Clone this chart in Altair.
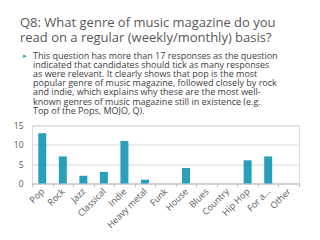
import altair as alt
import pandas as pd

genres = ["Pop", "Rock", "Jazz", "Classical", "Indie", "Heavy metal", "Funk",
          "House", "Blues", "Country", "Hip Hop", "For a...", "Other"]
counts = [13, 7, 2, 3, 11, 1, 0, 4, 0, 0, 6, 7, 0]

heading = ["Q8: What genre of music magazine do you",
           "read on a regular (weekly/monthly) basis?"]
paragraph = [
    "This question has more than 17 responses as the question",
    "indicated that candidates should tick as many responses",
    "as were relevant. It clearly shows that pop is the most",
    "popular genre of music magazine, followed closely by rock",
    "and indie, which explains why these are the most well-",
    "known genres of music magazine still in existence (e.g.",
    "Top of the Pops, MOJO, Q).",
]
y_ticks = [0, 5, 10, 15]

df = pd.DataFrame({"genre": genres, "count": counts})
one = pd.DataFrame({"k": [0]})

FONT = "Open Sans"

bars = alt.Chart(df).mark_bar(color="#2A9FBC", size=8).encode(
    x=alt.X("genre:N", sort=genres, title=None,
            scale=alt.Scale(paddingInner=0, paddingOuter=0),
            axis=alt.Axis(labelAngle=-45, labelAlign="right", labelBaseline="middle",
                          labelFontSize=9, labelColor="#595959", labelFont=FONT,
                          labelPadding=3, tickSize=3, tickColor="#BFBFBF",
                          tickBand="extent", domainColor="#BFBFBF", grid=False)),
    y=alt.Y("count:Q", title=None,
            scale=alt.Scale(domain=[0, 15], nice=False),
            axis=alt.Axis(values=y_ticks, labelFontSize=8.5, labelColor="#595959",
                          labelFont=FONT, labelPadding=9, ticks=False,
                          domainColor="#D9D9D9", gridColor="#D9D9D9")),
)

head = alt.Chart(one).mark_text(
    align="left", baseline="alphabetic", font=FONT, fontSize=13,
    color="#595959", lineBreak="\n", lineHeight=15,
).encode(x=alt.value(-12), y=alt.value(-99), text=alt.value("\n".join(heading)))

para = alt.Chart(one).mark_text(
    align="left", baseline="alphabetic", font=FONT, fontSize=9,
    color="#404040", lineBreak="\n", lineHeight=9.2,
).encode(x=alt.value(1), y=alt.value(-67), text=alt.value("\n".join(paragraph)))

bullet = alt.Chart(one).mark_text(
    align="left", baseline="alphabetic", font=FONT, fontSize=7, color="#2A9FBC",
).encode(x=alt.value(-9), y=alt.value(-68), text=alt.value("▸"))

chart = alt.layer(bars, head, para, bullet).properties(
    width=267, height=58,
    autosize=alt.AutoSizeParams(type="none"),
    padding={"left": 32, "top": 125.5, "right": 21, "bottom": 56},
).configure_view(stroke=None).configure(background="white")

chart.save("out.html", embed_options={"renderer": "svg", "actions": False})
